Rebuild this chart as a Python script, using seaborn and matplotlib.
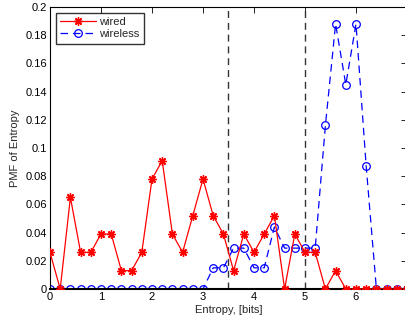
import numpy as np
import pandas as pd
import matplotlib
matplotlib.use("Agg")
import matplotlib.pyplot as plt
import seaborn as sns

entropy = [round(0.2 * i, 1) for i in range(36)]
wired = [0.026, 0.0, 0.065, 0.026, 0.026, 0.039, 0.039, 0.013, 0.013, 0.026,
         0.078, 0.091, 0.039, 0.026, 0.052, 0.078, 0.052, 0.039, 0.013, 0.039,
         0.026, 0.039, 0.052, 0.0, 0.039, 0.026, 0.026, 0.0, 0.013, 0.0,
         0.0, 0.0, 0.0, 0.0, 0.0, 0.0]
wireless = [0.0] * 16 + [0.015, 0.015, 0.029, 0.029, 0.015, 0.015, 0.044, 0.029,
                         0.029, 0.029, 0.029, 0.116, 0.188, 0.145, 0.188, 0.087,
                         0.0, 0.0, 0.0, 0.0]
vlines = [3.5, 5.0]
xticks = [0, 1, 2, 3, 4, 5, 6, 7]
yticks = [0, 0.02, 0.04, 0.06, 0.08, 0.1, 0.12, 0.14, 0.16, 0.18, 0.2]
ytick_labels = ["0", "0.02", "0.04", "0.06", "0.08", "0.1", "0.12", "0.14", "0.16", "0.18", "0.2"]

sns.set_style("white")
plt.rcParams['font.family'] = ['Liberation Sans', 'DejaVu Sans']
plt.rcParams['font.size'] = 8

df = pd.DataFrame({"x": entropy, "wired": wired, "wireless": wireless})

fig = plt.figure(figsize=(4.06, 3.21), dpi=100)
ax = fig.add_axes([50 / 406, 32 / 321, 357 / 406, 282 / 321])

for v in vlines:
    ax.axvline(v, color="#333333", linestyle=(0, (5, 3.5)), linewidth=1.0, zorder=1)

sns.lineplot(data=df, x="x", y="wired", ax=ax, color="red", marker=(8, 2, 0),
             markersize=6, markeredgecolor="red", markeredgewidth=1.0,
             linewidth=0.9, label="wired", zorder=3)
sns.lineplot(data=df, x="x", y="wireless", ax=ax, color="blue", marker="o",
             markersize=5.5, markerfacecolor="none", markeredgecolor="blue",
             markeredgewidth=0.9, linewidth=0.9, linestyle=(0, (6, 4)),
             label="wireless", zorder=2)

ax.set_xlim(0, 7)
ax.set_ylim(0, 0.2)
ax.set_xticks(xticks)
ax.set_yticks(yticks)
ax.set_yticklabels(ytick_labels)
ax.set_xlabel("Entropy, [bits]", fontsize=8, labelpad=2)
ax.set_ylabel("PMF of Entropy", fontsize=8, labelpad=4)
ax.tick_params(direction="in", top=True, right=True, length=4, width=0.6,
               labelsize=8, pad=2, colors="black")
for s in ax.spines.values():
    s.set_visible(True)
    s.set_color("black")
    s.set_linewidth(0.8)
ax.spines["bottom"].set_linewidth(1.5)

leg = ax.legend(loc="upper left", frameon=True, fancybox=False, fontsize=8,
                borderpad=0.4, handlelength=3.2, labelspacing=0.2,
                borderaxespad=0.5, handletextpad=0.3)
leg.get_frame().set_edgecolor("black")
leg.get_frame().set_linewidth(1.0)

fig.savefig("out.png", dpi=100)
